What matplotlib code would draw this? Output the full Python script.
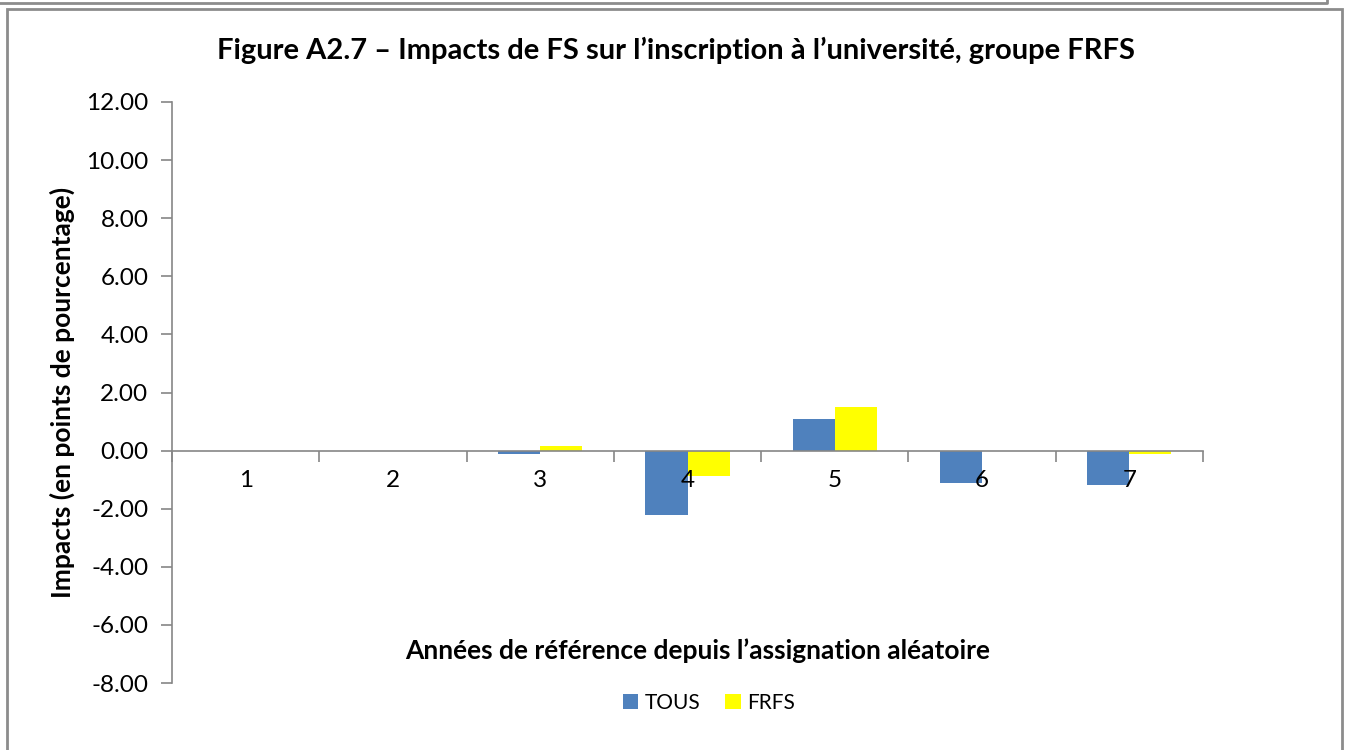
import numpy as np
import matplotlib.pyplot as plt
from matplotlib.patches import Rectangle
from matplotlib.lines import Line2D

plt.rcParams['font.family'] = ['Lato', 'DejaVu Sans']

# Données
annees = ['1', '2', '3', '4', '5', '6', '7']
tous = [0.0, 0.0, -0.10, -2.22, 1.09, -1.13, -1.18]
frfs = [0.0, 0.0, 0.15, -0.86, 1.50, -0.02, -0.10]

titre = "Figure A2.7 – Impacts de FS sur l’inscription à l’université, groupe FRFS"
xlabel = "Années de référence depuis l’assignation aléatoire"
ylabel = "Impacts (en points de pourcentage)"

fig = plt.figure(figsize=(13.47, 7.5), dpi=100)
ax = fig.add_axes([172/1347, 67/750, 1031/1347, 581/750])

x = np.arange(len(annees))
w = 1 / 3.5
ax.bar(x - w/2, tous, w, color='#4F81BD', label='TOUS')
ax.bar(x + w/2, frfs, w, color='#FFFF00', label='FRFS')

ax.set_xlim(-0.5, len(annees) - 0.5)
ax.set_ylim(-8, 12)
ax.set_yticks(np.arange(-8, 13, 2))
ax.set_yticklabels([f'{v:.2f}' for v in np.arange(-8, 13, 2)])

ax.set_xticks(x)
ax.set_xticklabels(annees)
ax.set_xticks(np.arange(-0.5, len(annees), 1), minor=True)
ax.tick_params(axis='x', which='major', length=0, pad=14, labelsize=17.5)
ax.tick_params(axis='x', which='minor', length=8, direction='out', color='#868686', width=1.2)
ax.tick_params(axis='y', length=8, direction='out', color='#868686', width=1.2, pad=9, labelsize=17.5)

for s in ['top', 'right']:
    ax.spines[s].set_visible(False)
ax.spines['bottom'].set_position(('data', 0))
for s in ['left', 'bottom']:
    ax.spines[s].set_color('#868686')
    ax.spines[s].set_linewidth(1.2)

fig.text(676/1347, 1 - 50/750, titre, ha='center', va='center', fontsize=21, fontweight='bold')
fig.text(698/1347, 1 - 651/750, xlabel, ha='center', va='center', fontsize=19, fontweight='bold')
fig.text(62/1347, 1 - 392/750, ylabel, ha='center', va='center', rotation=90, fontsize=19, fontweight='bold')

fig.legend(loc='center', bbox_to_anchor=(709/1347, 1 - 703/750), ncol=2, frameon=False,
           fontsize=15, handlelength=0.75, handleheight=0.75, handletextpad=0.3, columnspacing=1.2)

# cadre du graphique
fig.patches.append(Rectangle((7/1347, -0.01), (1342 - 7)/1347, 1 - 9/750 + 0.01,
                             transform=fig.transFigure, fill=False, edgecolor='#8c8c8c', linewidth=2))
fig.lines.append(Line2D([0, 1327/1347, 1327/1347], [1 - 3/750, 1 - 3/750, 1],
                        transform=fig.transFigure, color='#8c8c8c', linewidth=2))

fig.savefig('out.png', dpi=100)
